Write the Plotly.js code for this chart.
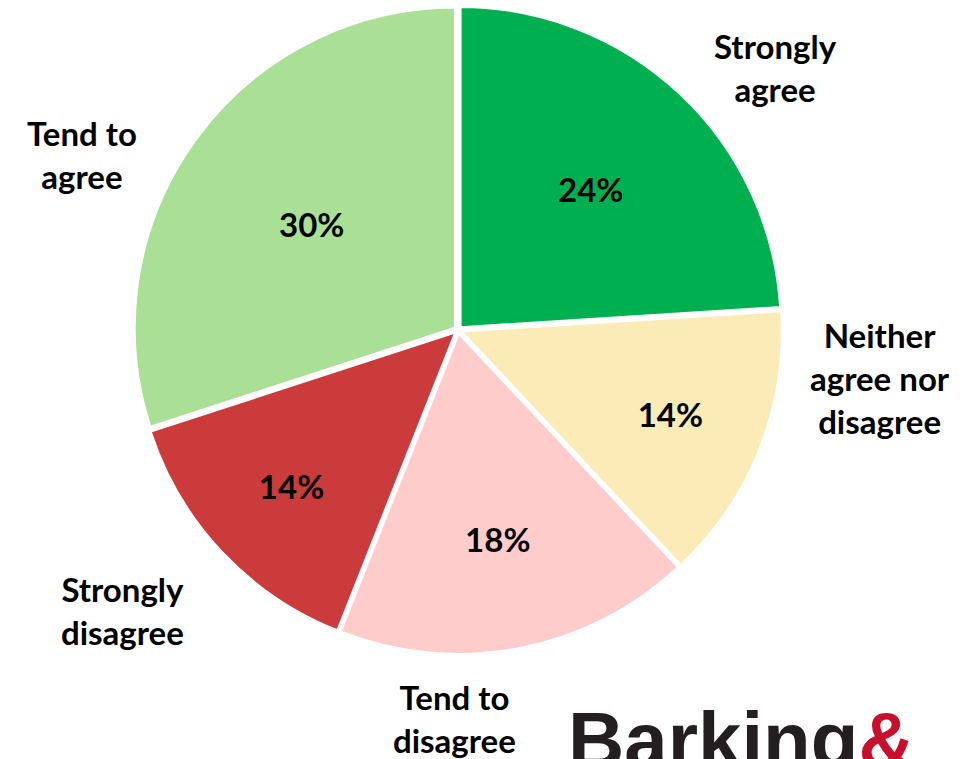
<!DOCTYPE html>
<html>
<head>
<meta charset="utf-8">
<script src="https://cdn.plot.ly/plotly-3.0.1.min.js"></script>
<style>
  html, body { margin: 0; padding: 0; background: #ffffff; }
  #chart { width: 976px; height: 759px; }
</style>
</head>
<body>
<div id="chart"></div>
<script>
// Survey responses, clockwise from 12 o'clock
const categories = ['Strongly agree', 'Neither agree nor disagree', 'Tend to disagree', 'Strongly disagree', 'Tend to agree'];
const shares = [24, 14, 18, 14, 30];
const sliceColors = ['#00B050', '#FAEBB7', '#FFCCCC', '#CC3B3B', '#A9E096'];

// Outside label text, with line breaks as set in the chart
const outsideLabels = ['Strongly<br>agree', 'Neither<br>agree nor<br>disagree', 'Tend to<br>disagree', 'Strongly<br>disagree', 'Tend to<br>agree'];
const labelX = [0.795, 0.902, 0.466, 0.125, 0.084];
const labelY = [0.911, 0.502, 0.054, 0.196, 0.796];

const FONT = 'Lato, "Open Sans", sans-serif';

const trace = {
  type: 'pie',
  labels: categories,
  values: shares,
  sort: false,
  direction: 'clockwise',
  rotation: 0,
  pull: 0.012,
  marker: { colors: sliceColors, line: { color: '#ffffff', width: 2 } },
  texttemplate: '<b>%{value}%</b>',
  textposition: 'inside',
  insidetextorientation: 'horizontal',
  textfont: { family: FONT, size: 33, color: '#000000' },
  hoverinfo: 'label+percent',
  domain: { x: [0.1373, 0.8012], y: [0.1383, 0.9921] },
  showlegend: false
};

const annotations = categories.map((c, i) => ({
  text: '<b>' + outsideLabels[i] + '</b>',
  x: labelX[i], y: labelY[i], xref: 'paper', yref: 'paper',
  xanchor: 'center', yanchor: 'middle',
  showarrow: false, align: 'center',
  font: { family: FONT, size: 33, color: '#000000' }
}));

// Council wordmark, cut at the bottom edge
annotations.push({
  text: '<b>Barking</b><b><span style="color:#C8102E">&</span></b>',
  x: 0.580, y: -0.036, xref: 'paper', yref: 'paper',
  xanchor: 'left', yanchor: 'bottom',
  showarrow: false,
  font: { family: '"Liberation Sans", Arial, sans-serif', size: 78, color: '#231F20' }
});

const layout = {
  width: 976,
  height: 759,
  margin: { l: 0, r: 0, t: 0, b: 0 },
  paper_bgcolor: '#ffffff',
  plot_bgcolor: '#ffffff',
  annotations: annotations
};

Plotly.newPlot('chart', [trace], layout, { displayModeBar: false, staticPlot: true });
</script>
</body>
</html>
